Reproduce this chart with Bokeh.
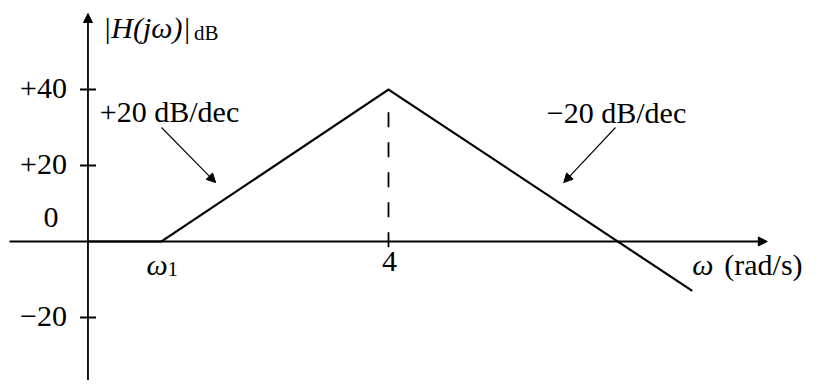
from bokeh.plotting import figure
from bokeh.models import Arrow, NormalHead, Label, Range1d
from bokeh.embed import file_html
from bokeh.resources import INLINE

# ---- data (asymptotic Bode magnitude) ----
omega = [0.009, 0.04, 4.0, 1900.0]        # rad/s (first point = vertical axis)
mag_db = [0.0, 0.0, 40.0, -13.0]          # dB
omega1 = 0.04                             # first corner (label ω1)
corner_omega = 4.0                        # second corner (label 4)
corner_label = "4"
ytick_values = [40, 20, -20]
ytick_labels = ["+40", "+20", "\u221220"]
zero_label = "0"
slope_labels = ["+20 dB/dec", "\u221220 dB/dec"]
slope_arrow_from_omega = [0.04, 400.0]
slope_arrow_from_db = [30.0, 30.0]
slope_arrow_to_omega = [0.12, 140.0]
slope_arrow_to_db = [15.5, 15.5]

# ---- layout ----
W, H = 811, 380
PX_PER_DEC = 113.5
PX_PER_DB = 3.8
CORNER_PX = 388      # frame x of corner_omega
ZERO_PX = 241        # frame y of 0 dB
x_start = corner_omega * 10 ** (-CORNER_PX / PX_PER_DEC)
x_end = corner_omega * 10 ** ((W - CORNER_PX) / PX_PER_DEC)
y_top = ZERO_PX / PX_PER_DB
y_bottom = -(H - ZERO_PX) / PX_PER_DB

FONT = "Liberation Serif"
FS = "30px"
FS_SUB = "21px"
LIFT = 10   # vertical correction for the text baseline (px)

p = figure(width=W, height=H, x_axis_type="log",
           x_range=Range1d(x_start, x_end), y_range=Range1d(y_bottom, y_top),
           x_axis_location=None, y_axis_location=None,
           toolbar_location=None, output_backend="svg", min_border=0)
p.outline_line_color = None
p.grid.visible = False
p.background_fill_color = "white"
p.border_fill_color = "white"

axis_omega = omega[0]
x_axis_end = 8700.0
y_axis_top = 60.0

# axes with arrow heads
p.add_layout(Arrow(end=NormalHead(size=9, fill_color="black", line_color="black", line_width=1),
                   x_start=x_start * 1.2, y_start=0, x_end=x_axis_end, y_end=0,
                   line_width=1.8, line_color="black"))
p.add_layout(Arrow(end=NormalHead(size=9, fill_color="black", line_color="black", line_width=1),
                   x_start=axis_omega, y_start=y_bottom - 5, x_end=axis_omega, y_end=y_axis_top,
                   line_width=1.8, line_color="black"))

# y ticks
p.scatter(x=[axis_omega] * len(ytick_values), y=ytick_values, marker="dash",
          size=16, line_width=1.8, line_color="black")

# dashed guide at the corner frequency
p.line(x=[corner_omega, corner_omega], y=[-1.5, 35.5], line_dash="15 15",
       line_width=1.8, line_color="black")

# asymptotic magnitude
p.line(x=omega, y=mag_db, line_width=2.2, line_color="black", line_join="miter")

# slope arrows
for xs, ys, xe, ye in zip(slope_arrow_from_omega, slope_arrow_from_db,
                          slope_arrow_to_omega, slope_arrow_to_db):
    p.add_layout(Arrow(end=NormalHead(size=9, fill_color="black", line_color="black", line_width=1),
                       x_start=xs, y_start=ys, x_end=xe, y_end=ye,
                       line_width=1.1, line_color="black"))


def lab(x, y, text, dx=0, dy=0, align="left", size=FS, style="normal", baseline="alphabetic"):
    p.add_layout(Label(x=x, y=y, text=text, x_offset=dx, y_offset=dy + LIFT,
                       text_align=align, text_baseline=baseline,
                       text_font=FONT, text_font_size=size, text_font_style=style,
                       text_color="black"))


# y tick labels
for v, t in zip(ytick_values, ytick_labels):
    lab(axis_omega, v, t, dx=-21, dy=-9, align="right")
lab(axis_omega, 0, zero_label, dx=-37, dy=14, align="center")

# y axis title
lab(axis_omega, y_axis_top, "|H(j\u03c9)|", dx=15, dy=-24, style="italic", size="30px")
lab(axis_omega, y_axis_top, "dB", dx=106, dy=-29, size=FS_SUB)

# x labels
lab(omega1, 0, "\u03c9", dx=-15, dy=-33, style="italic")
lab(omega1, 0, "1", dx=6, dy=-37, size=FS_SUB)
lab(corner_omega, 0, corner_label, dx=1, dy=-30, align="center")
lab(x_axis_end, 0, "\u03c9", dx=-75, dy=-33, style="italic")
lab(x_axis_end, 0, "(rad/s)", dx=-43, dy=-33)

# slope labels
lab(slope_arrow_from_omega[0], slope_arrow_from_db[0], slope_labels[0], dx=8, dy=6, align="center")
lab(slope_arrow_from_omega[1], slope_arrow_from_db[1], slope_labels[1], dx=1, dy=5, align="center")

open("out.html", "w").write(file_html(p, INLINE))
